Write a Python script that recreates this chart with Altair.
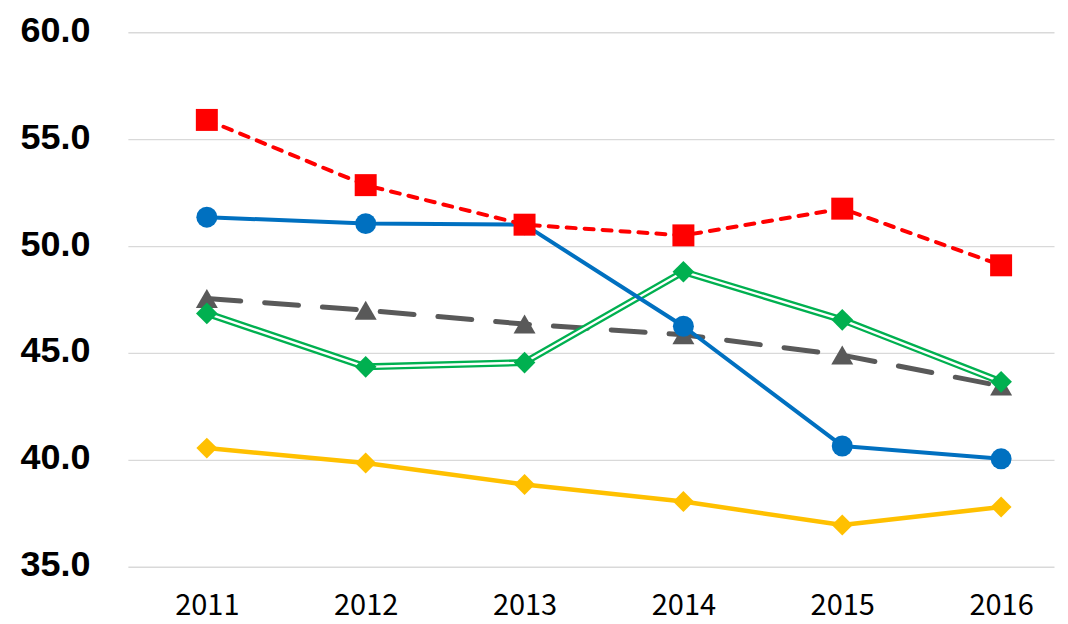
import altair as alt
import pandas as pd

years = [2011, 2012, 2013, 2014, 2015, 2016]
series_names = ["系列A", "系列B", "系列C", "系列D", "系列E"]
red_vals = [55.9, 52.85, 51.0, 50.5, 51.75, 49.1]
blue_vals = [51.35, 51.05, 51.0, 46.25, 40.65, 40.05]
gray_vals = [47.55, 47.0, 46.35, 45.85, 44.9, 43.45]
green_vals = [46.85, 44.35, 44.55, 48.8, 46.55, 43.65]
yellow_vals = [40.55, 39.85, 38.85, 38.05, 36.95, 37.8]
y_ticks = [35, 40, 45, 50, 55, 60]
title_text = "（人口10万対、女性）"

def frame(vals, name):
    return pd.DataFrame({"year": years, "value": vals, "series": name})

df_red = frame(red_vals, series_names[0])
df_blue = frame(blue_vals, series_names[1])
df_gray = frame(gray_vals, series_names[2])
df_green = frame(green_vals, series_names[3])
df_yellow = frame(yellow_vals, series_names[4])

W, H = 927, 535

xs = alt.X("year:Q",
           scale=alt.Scale(domain=[2010.503, 2016.333], nice=False, zero=False),
           axis=alt.Axis(values=years, format="d", title=None, grid=False, domain=False,
                         ticks=False, labelFont="Noto Sans CJK JP", labelFontSize=29,
                         labelColor="#000000", labelPadding=25, labelFlush=False))
ys = alt.Y("value:Q",
           scale=alt.Scale(domain=[35, 60], nice=False, zero=False),
           axis=alt.Axis(values=y_ticks, format=".1f", title=None, grid=True,
                         gridColor="#d9d9d9", gridWidth=1.3, domain=False, ticks=False,
                         labelFont="Liberation Sans", labelFontWeight="bold",
                         labelFontSize=36, labelColor="#000000", labelPadding=38,
                         labelOffset=-2))

def line(df, color, width, dash=None):
    kw = dict(color=color, strokeWidth=width, strokeCap="round", strokeJoin="round")
    if dash:
        kw["strokeDash"] = dash
    return alt.Chart(df).mark_line(**kw).encode(x=xs, y=ys)

def pts(df, color, shape, size):
    return alt.Chart(df).mark_point(shape=shape, size=size, filled=True, opacity=1,
                                    color=color, strokeWidth=0).encode(x=xs, y=ys)

title = alt.Chart(pd.DataFrame({"t": [title_text]})).mark_text(
    font="Noto Sans CJK JP", fontSize=40, color="#000000", baseline="bottom",
    align="center").encode(text="t:N", x=alt.value(454), y=alt.value(-21))

layers = [
    line(df_gray, "#595959", 5, [34, 24]),
    pts(df_gray, "#595959", "triangle-up", 484),
    line(df_green, "#00b050", 7),
    line(df_green, "#ffffff", 2.3),
    pts(df_green, "#00b050", "diamond", 470),
    line(df_yellow, "#ffc000", 4.5),
    pts(df_yellow, "#ffc000", "diamond", 440),
    line(df_blue, "#0070c0", 4),
    pts(df_blue, "#0070c0", "circle", 441),
    line(df_red, "#ff0000", 4, [9, 9]),
    pts(df_red, "#ff0000", "square", 484),
    title,
]

chart = alt.layer(*layers).properties(
    width=W, height=H,
    background="#ffffff",
    autosize=alt.AutoSizeParams(type="none"),
    padding={"left": 120, "top": 24, "right": 6, "bottom": 57},
).configure_view(strokeWidth=0, stroke="transparent")

chart.save("out.html", embed_options={"renderer": "svg", "actions": False})
